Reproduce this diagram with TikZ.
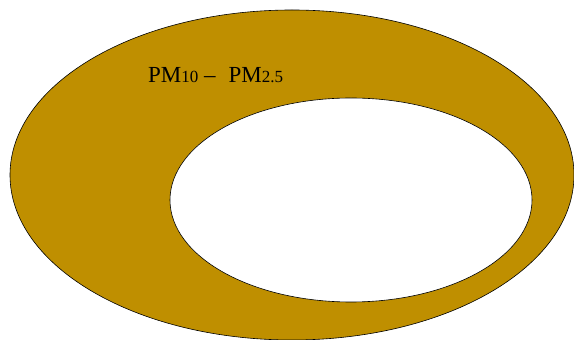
\documentclass[tikz,border=0pt]{standalone}
\usepackage{fontspec}
\setmainfont{Liberation Serif}
\definecolor{ringgold}{RGB}{191,143,0}
\begin{document}
\begin{tikzpicture}[x=1pt,y=1pt,
  ring/.style={draw=black, line width=0.6pt}]
\useasboundingbox (0,0) rectangle (574,340);
\clip (0,0) rectangle (574,340);
\path[ring, fill=ringgold] (292,165) ellipse [x radius=282, y radius=165];
\path[ring, fill=white] (351,140) ellipse [x radius=181, y radius=102];
\node[anchor=base west, inner sep=0pt] (lbl) at (148,257)
  {\fontsize{23}{23}\selectfont PM{\fontsize{17}{17}\selectfont 10} –\hspace{13pt}PM{\fontsize{17}{17}\selectfont 2.5}};
\end{tikzpicture}
\end{document}
